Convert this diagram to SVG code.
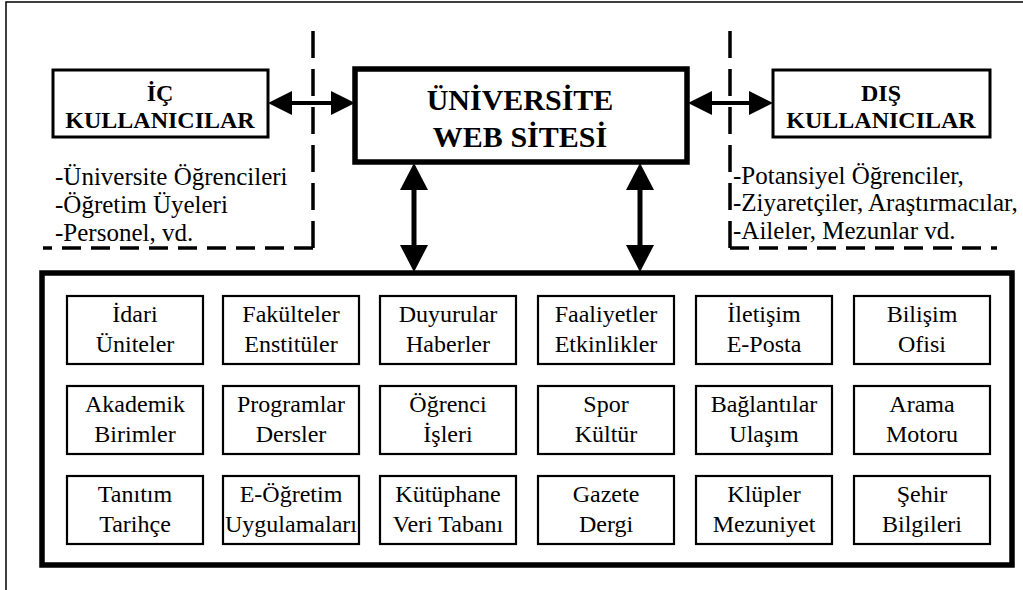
<svg xmlns="http://www.w3.org/2000/svg" width="1023" height="590" viewBox="0 0 1023 590">
<style>
  .frame{fill:none;stroke:#000;stroke-width:1.5}
  .dashv{fill:none;stroke:#000;stroke-width:3.5;stroke-dasharray:27 11}
  .dashh{fill:none;stroke:#000;stroke-width:3.5;stroke-dasharray:19 10}
  .user{fill:#fff;stroke:#000;stroke-width:3}
  .main{fill:#fff;stroke:#000;stroke-width:5.5}
  .big{fill:none;stroke:#000;stroke-width:5.5}
  .item{fill:#fff;stroke:#000;stroke-width:2.2}
  .hbold{font-family:"Liberation Serif","Times New Roman",serif;font-weight:bold;font-size:24px;text-anchor:middle}
  .mbold{font-family:"Liberation Serif","Times New Roman",serif;font-weight:bold;font-size:30px;text-anchor:middle}
  .desc{font-family:"Liberation Serif","Times New Roman",serif;font-size:25px}
  .lbl{font-family:"Liberation Serif","Times New Roman",serif;font-size:24px;text-anchor:middle}
  .sh{fill:none;stroke:#000;stroke-width:4}
  .sv{fill:none;stroke:#000;stroke-width:5}
</style>
<defs>
  <marker id="hh" markerUnits="userSpaceOnUse" viewBox="0 0 24 24" refX="16" refY="12" markerWidth="24" markerHeight="24" orient="auto-start-reverse">
    <path d="M0,0 L24,12 L0,24 Z" fill="#000"/>
  </marker>
  <marker id="vh" markerUnits="userSpaceOnUse" viewBox="0 0 27 28" refX="19" refY="14" markerWidth="27" markerHeight="28" orient="auto-start-reverse">
    <path d="M0,0 L27,14 L0,28 Z" fill="#000"/>
  </marker>
</defs>

<rect class="frame" x="6" y="2" width="1040" height="620"/>

<g id="boundaries">
  <path class="dashv" d="M313,248 V25"/>
  <path class="dashh" d="M313,248 H43"/>
  <path class="dashv" d="M730,248 V25"/>
  <path class="dashh" d="M730,248 H997"/>
</g>

<g id="connectors">
  <path class="sh" d="M276,103 H347" marker-start="url(#hh)" marker-end="url(#hh)"/>
  <path class="sh" d="M696,103 H765" marker-start="url(#hh)" marker-end="url(#hh)"/>
  <path class="sv" d="M414,171 V264" marker-start="url(#vh)" marker-end="url(#vh)"/>
  <path class="sv" d="M640,171 V264" marker-start="url(#vh)" marker-end="url(#vh)"/>
</g>

<g id="ic-kullanicilar">
  <rect class="user" x="53" y="70" width="215" height="67"/>
  <text class="hbold" x="160" y="101">İÇ</text>
  <text class="hbold" x="160" y="128">KULLANICILAR</text>
  <text class="desc" x="55" y="185">-Üniversite Öğrencileri</text>
  <text class="desc" x="55" y="213">-Öğretim Üyeleri</text>
  <text class="desc" x="55" y="241">-Personel, vd.</text>
</g>

<g id="universite-web-sitesi">
  <rect class="main" x="355" y="69" width="332" height="93"/>
  <text class="mbold" x="520" y="110">ÜNİVERSİTE</text>
  <text class="mbold" x="520" y="147">WEB SİTESİ</text>
</g>

<g id="dis-kullanicilar">
  <rect class="user" x="773" y="70" width="217" height="67"/>
  <text class="hbold" x="881" y="101">DIŞ</text>
  <text class="hbold" x="881" y="128">KULLANICILAR</text>
  <text class="desc" x="733" y="184">-Potansiyel Öğrenciler,</text>
  <text class="desc" x="733" y="211">-Ziyaretçiler, Araştırmacılar,</text>
  <text class="desc" x="733" y="239">-Aileler, Mezunlar vd.</text>
</g>

<g id="site-icerigi">
  <rect class="big" x="42" y="273" width="970" height="292"/>
</g>

<g id="idari-uniteler"><rect class="item" x="67" y="296" width="136" height="68"/><text class="lbl" x="135" y="322">İdari</text><text class="lbl" x="135" y="352">Üniteler</text></g>
<g id="fakulteler"><rect class="item" x="223" y="296" width="136" height="68"/><text class="lbl" x="291" y="322">Fakülteler</text><text class="lbl" x="291" y="352">Enstitüler</text></g>
<g id="duyurular"><rect class="item" x="380" y="296" width="136" height="68"/><text class="lbl" x="448" y="322">Duyurular</text><text class="lbl" x="448" y="352">Haberler</text></g>
<g id="faaliyetler"><rect class="item" x="538" y="296" width="136" height="68"/><text class="lbl" x="606" y="322">Faaliyetler</text><text class="lbl" x="606" y="352">Etkinlikler</text></g>
<g id="iletisim"><rect class="item" x="696" y="296" width="136" height="68"/><text class="lbl" x="764" y="322">İletişim</text><text class="lbl" x="764" y="352">E-Posta</text></g>
<g id="bilisim"><rect class="item" x="854" y="296" width="136" height="68"/><text class="lbl" x="922" y="322">Bilişim</text><text class="lbl" x="922" y="352">Ofisi</text></g>

<g id="akademik-birimler"><rect class="item" x="67" y="386" width="136" height="68"/><text class="lbl" x="135" y="412">Akademik</text><text class="lbl" x="135" y="442">Birimler</text></g>
<g id="programlar"><rect class="item" x="223" y="386" width="136" height="68"/><text class="lbl" x="291" y="412">Programlar</text><text class="lbl" x="291" y="442">Dersler</text></g>
<g id="ogrenci-isleri"><rect class="item" x="380" y="386" width="136" height="68"/><text class="lbl" x="448" y="412">Öğrenci</text><text class="lbl" x="448" y="442">İşleri</text></g>
<g id="spor-kultur"><rect class="item" x="538" y="386" width="136" height="68"/><text class="lbl" x="606" y="412">Spor</text><text class="lbl" x="606" y="442">Kültür</text></g>
<g id="baglantilar"><rect class="item" x="696" y="386" width="136" height="68"/><text class="lbl" x="764" y="412">Bağlantılar</text><text class="lbl" x="764" y="442">Ulaşım</text></g>
<g id="arama-motoru"><rect class="item" x="854" y="386" width="136" height="68"/><text class="lbl" x="922" y="412">Arama</text><text class="lbl" x="922" y="442">Motoru</text></g>

<g id="tanitim"><rect class="item" x="67" y="476" width="136" height="68"/><text class="lbl" x="135" y="502">Tanıtım</text><text class="lbl" x="135" y="532">Tarihçe</text></g>
<g id="e-ogretim"><rect class="item" x="223" y="476" width="136" height="68"/><text class="lbl" x="291" y="502">E-Öğretim</text><text class="lbl" x="291" y="532">Uygulamaları</text></g>
<g id="kutuphane"><rect class="item" x="380" y="476" width="136" height="68"/><text class="lbl" x="448" y="502">Kütüphane</text><text class="lbl" x="448" y="532">Veri Tabanı</text></g>
<g id="gazete"><rect class="item" x="538" y="476" width="136" height="68"/><text class="lbl" x="606" y="502">Gazete</text><text class="lbl" x="606" y="532">Dergi</text></g>
<g id="klupler"><rect class="item" x="696" y="476" width="136" height="68"/><text class="lbl" x="764" y="502">Klüpler</text><text class="lbl" x="764" y="532">Mezuniyet</text></g>
<g id="sehir"><rect class="item" x="854" y="476" width="136" height="68"/><text class="lbl" x="922" y="502">Şehir</text><text class="lbl" x="922" y="532">Bilgileri</text></g>
</svg>
